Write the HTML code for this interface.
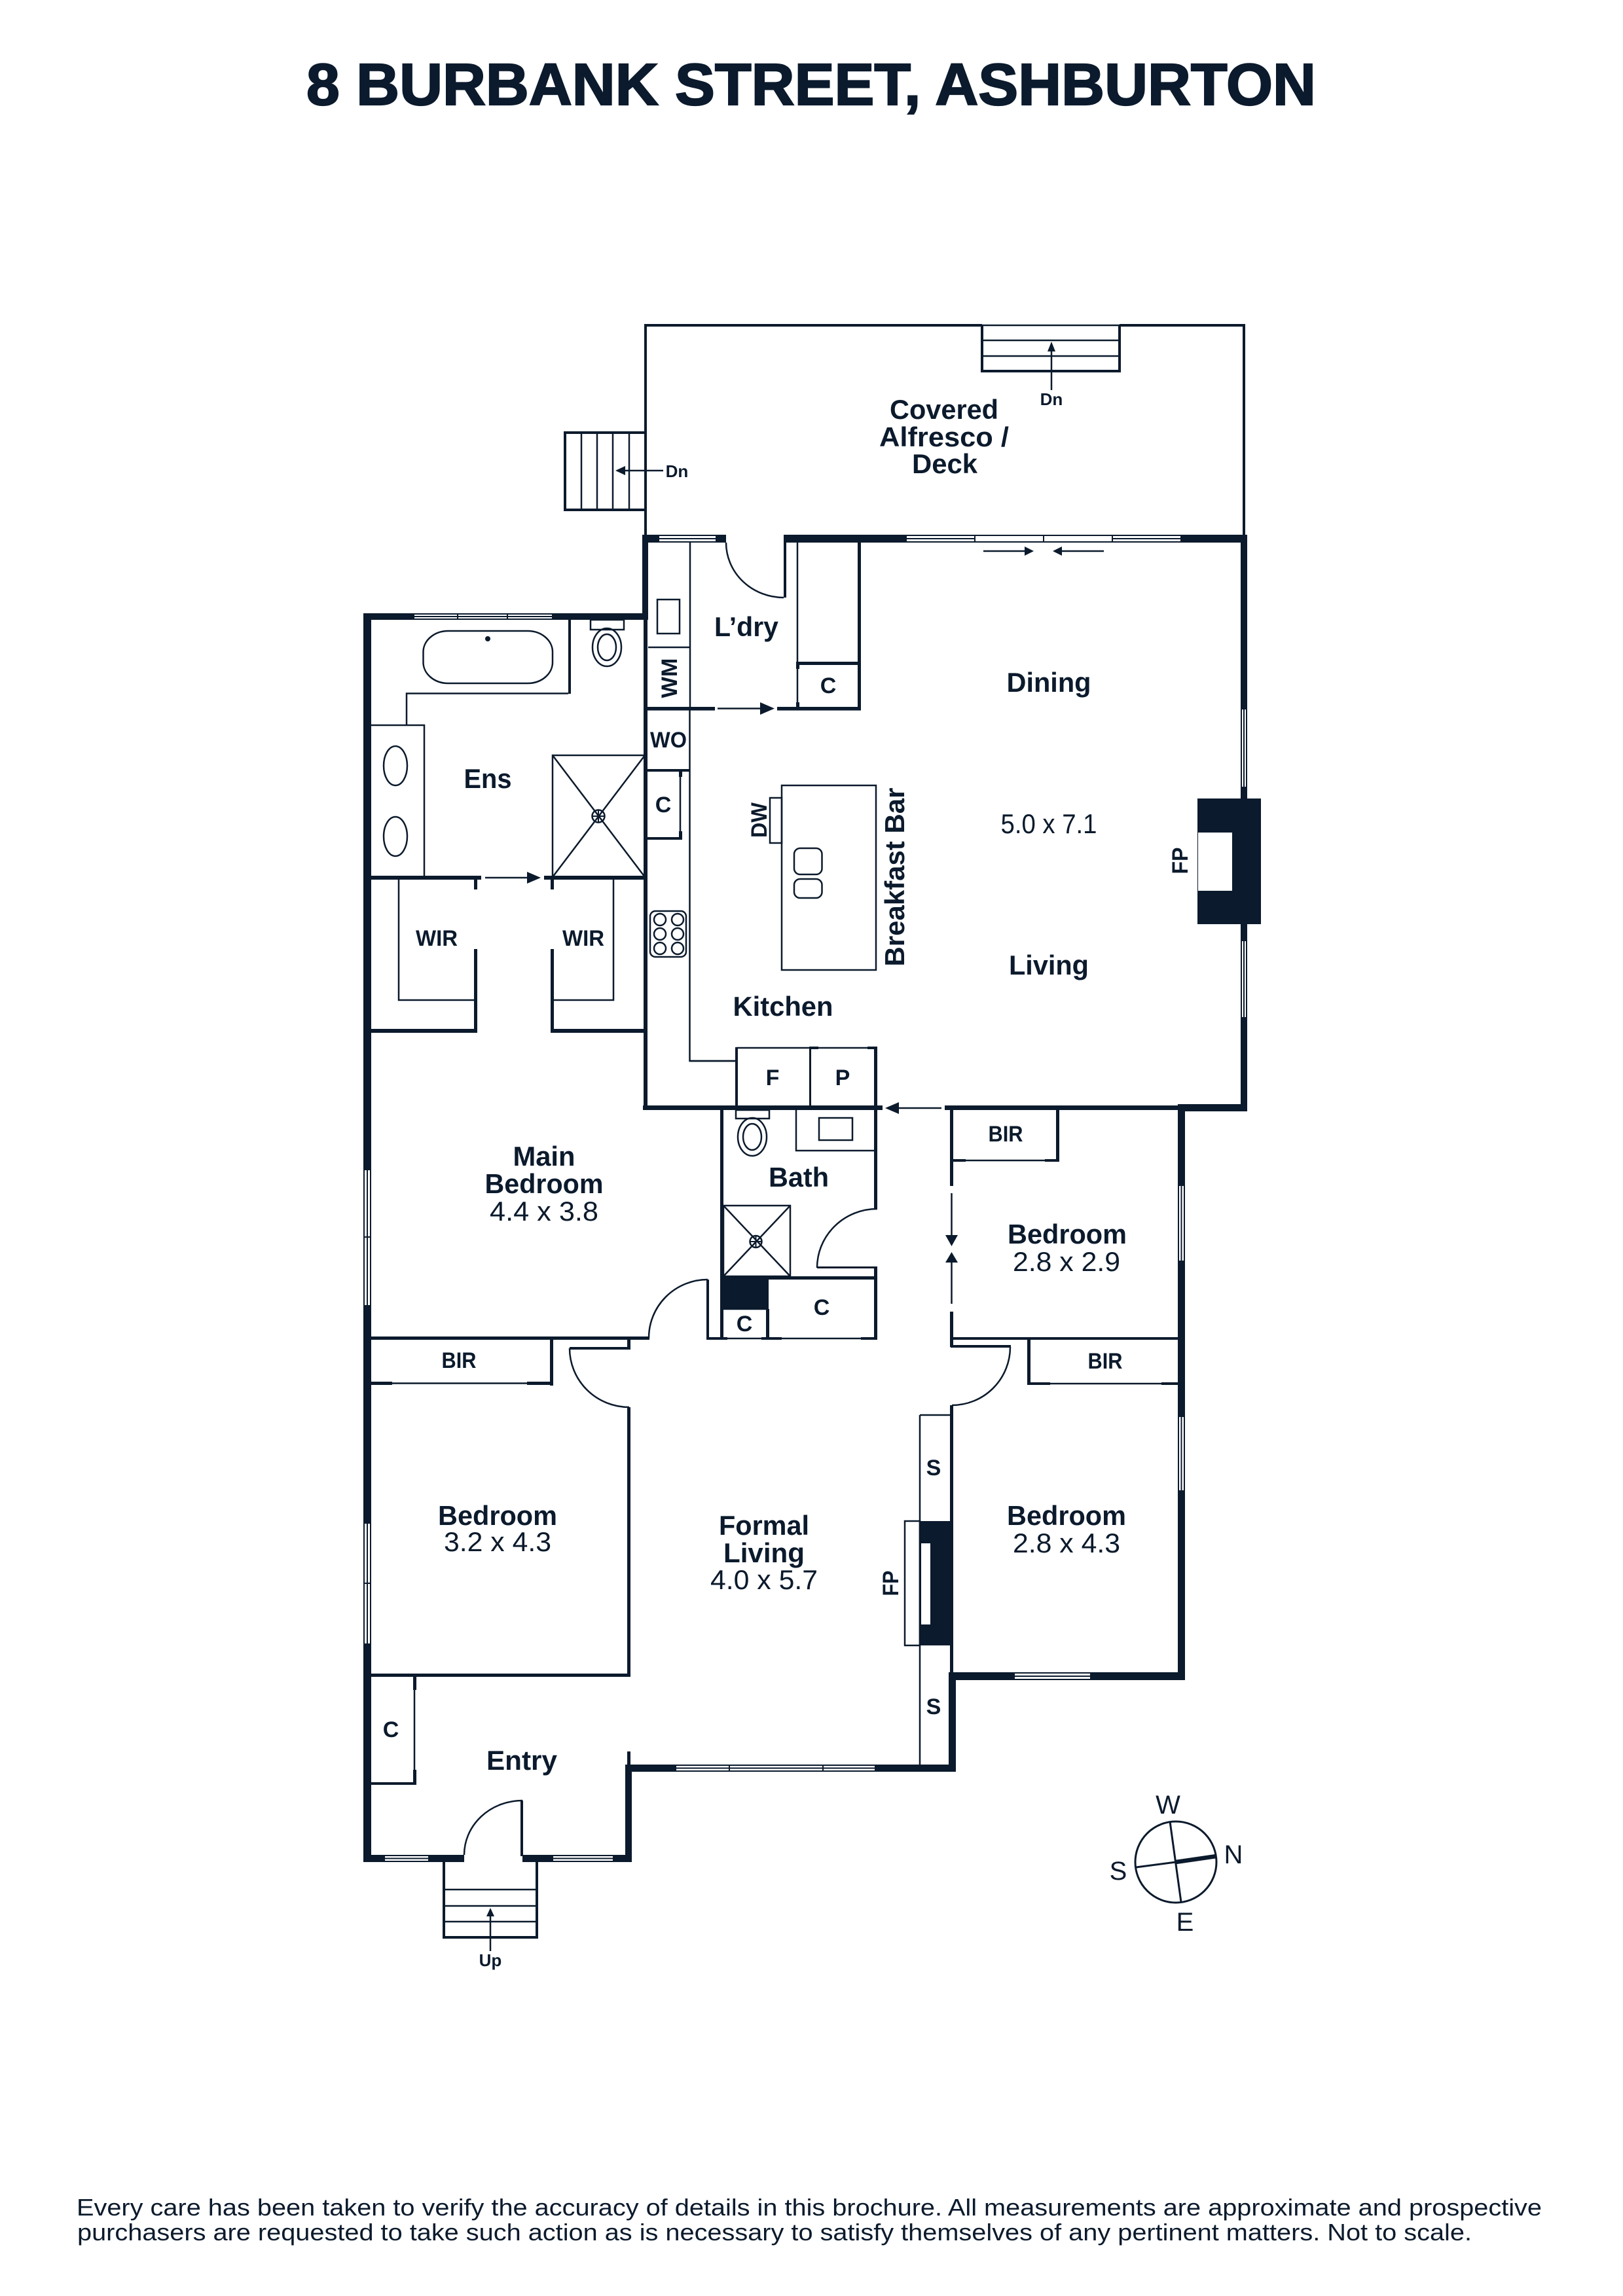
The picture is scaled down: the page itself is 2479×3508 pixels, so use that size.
<!DOCTYPE html>
<html>
<head>
<meta charset="utf-8">
<style>
html,body{margin:0;padding:0;background:#fff;}
svg{display:block;}
text{font-family:"Liberation Sans",sans-serif;fill:#0b1a2c;text-anchor:middle;}
.b{font-weight:700;font-size:42px;}
.r{font-weight:400;font-size:42px;}
.s{font-weight:700;font-size:34px;}
.d{font-weight:700;font-size:26px;}
.c{font-weight:400;font-size:40px;}
.w rect,.w path{fill:#0b1a2c;}
.win rect{fill:#fff;stroke:#0b1a2c;stroke-width:2;}
.win path{fill:none;stroke:#0b1a2c;stroke-width:2;}
.t{fill:none;stroke:#0b1a2c;stroke-width:2.5;}
.m{fill:none;stroke:#0b1a2c;stroke-width:4;}
</style>
</head>
<body>
<svg xmlns="http://www.w3.org/2000/svg" width="2479" height="3508" viewBox="0 0 2479 3508">
<rect width="2479" height="3508" fill="#fff"/>

<text x="1239" y="160" font-size="90" font-weight="700" textLength="1542" lengthAdjust="spacingAndGlyphs" stroke="#0b1a2c" stroke-width="2.2">8 BURBANK STREET, ASHBURTON</text>

<!-- alfresco -->
<path class="m" d="M986 817V497H1500M1710 497H1900V817"/>
<path class="t" d="M1500 497H1710M1500 520H1710M1500 544H1710"/>
<path class="m" d="M1500 497V567H1710V497"/>
<path class="t" d="M1606 596V535"/>
<polygon points="1606,522 1600,537 1612,537" fill="#0b1a2c"/>
<path class="m" d="M986 661H863V779H986" style="stroke-width:4"/>
<path class="t" d="M888 661V779M912 661V779M936 661V779M961 661V779"/>
<path class="t" d="M1013 719H952"/>
<polygon points="940,719 955,712 955,726" fill="#0b1a2c"/>

<!-- thick and medium walls -->
<g class="w">
<rect x="981" y="817" width="128" height="12"/>
<rect x="1197" y="817" width="707" height="12"/>
<rect x="981" y="817" width="9" height="130"/>
<rect x="555" y="937" width="435" height="10"/>
<rect x="555" y="937" width="12" height="1908"/>
<rect x="1895" y="817" width="10" height="881"/>
<rect x="1799" y="1687" width="106" height="11"/>
<rect x="1799" y="1687" width="11" height="880"/>
<rect x="1449" y="2555" width="361" height="12"/>
<rect x="1449" y="2555" width="11" height="152"/>
<rect x="955" y="2696" width="505" height="11"/>
<rect x="955" y="2696" width="10" height="149"/>
<rect x="958" y="2676" width="5" height="20"/>
<rect x="555" y="2834" width="154" height="11"/>
<rect x="798" y="2834" width="167" height="11"/>
<rect x="795" y="2751" width="4" height="85"/>
<rect x="983" y="947" width="6" height="749"/>
<rect x="982" y="1689" width="366" height="7"/>
<rect x="1443" y="1689" width="360" height="7"/>

<!-- laundry -->
<rect x="1197" y="829" width="4" height="84"/>
<rect x="1310" y="829" width="5" height="256"/>
<rect x="1216" y="1011" width="96" height="5"/>
<rect x="1216" y="1011" width="5" height="11"/>
<rect x="1216" y="1073" width="5" height="8"/>
<rect x="985" y="1080" width="107" height="5.5"/>
<rect x="1187" y="1080" width="128" height="5.5"/>

<!-- pantry etc -->
<rect x="985" y="1175" width="68" height="4"/>
<rect x="1037" y="1177" width="5" height="10"/>
<rect x="1037" y="1270" width="5" height="12"/>
<rect x="985" y="1279" width="57" height="4"/>

<!-- ensuite -->
<rect x="868" y="947" width="4" height="113"/>
<rect x="566" y="1338" width="169" height="6"/>
<rect x="831" y="1338" width="154" height="6"/>
<rect x="724" y="1344" width="5" height="15"/>
<rect x="841" y="1344" width="5" height="15"/>
<rect x="724" y="1450" width="5" height="126"/>
<rect x="841" y="1450" width="5" height="126"/>
<rect x="566" y="1572" width="163" height="6"/>
<rect x="841" y="1572" width="144" height="6"/>

<!-- main bedroom / BIR -->
<rect x="566" y="2042" width="426" height="5"/>
<rect x="840" y="2047" width="5" height="70"/>
<rect x="566" y="2111" width="33" height="5"/>
<rect x="805" y="2111" width="40" height="5"/>
<rect x="958" y="2047" width="5" height="15"/>
<rect x="870" y="2058" width="93" height="4"/>
<rect x="958" y="2150" width="5" height="412"/>
<rect x="566" y="2557" width="397" height="5"/>
<rect x="631" y="2562" width="5" height="20"/>
<rect x="631" y="2704" width="5" height="22"/>
<rect x="566" y="2723" width="70" height="4"/>

<!-- bath -->
<rect x="1100" y="1696" width="5" height="351"/>
<rect x="1079" y="1955" width="4" height="92"/>
<rect x="1079" y="2043" width="32" height="4"/>
<rect x="1335" y="1599" width="5" height="248"/>
<rect x="1123" y="1600" width="4" height="96"/>
<rect x="1236" y="1600" width="3" height="96"/>
<rect x="1236" y="1599" width="14" height="4"/>
<rect x="1325" y="1599" width="15" height="4"/>
<rect x="1248" y="1935" width="92" height="3"/>
<rect x="1335" y="1935" width="5" height="112"/>
<rect x="1100" y="1950" width="240" height="5"/>
<rect x="1100" y="1950" width="74" height="50"/>
<rect x="1170" y="2000" width="5" height="47"/>
<rect x="1163" y="2043" width="31" height="4"/>
<rect x="1315" y="2043" width="25" height="4"/>

<!-- bedrooms east -->
<rect x="1451" y="1696" width="5" height="116"/>
<rect x="1451" y="2004" width="5" height="54"/>
<rect x="1613" y="1696" width="5" height="79"/>
<rect x="1454" y="1771" width="21" height="4"/>
<rect x="1596" y="1771" width="22" height="4"/>
<rect x="1454" y="2043" width="345" height="4"/>
<rect x="1452" y="2055" width="92" height="4"/>
<rect x="1569" y="2047" width="5" height="69"/>
<rect x="1569" y="2112" width="35" height="4"/>
<rect x="1774" y="2112" width="26" height="4"/>
<rect x="1451" y="2147" width="5" height="409"/>

<!-- fireplaces -->
<rect x="1829" y="1220" width="97" height="192"/>
<rect x="1405" y="2324" width="51" height="190"/>
</g>

<rect x="1830" y="1272" width="52" height="89" fill="#fff"/>
<rect x="1407" y="2358" width="14" height="124" fill="#fff"/>
<rect x="1382" y="2324" width="23" height="190" fill="#fff" stroke="#0b1a2c" stroke-width="2.5"/>

<!-- thin fixtures -->
<path class="t" d="M1054 829V1085M990 989H1054M1218 829V1083"/>
<rect x="1004" y="916" width="34" height="52" fill="#fff" class="t"/>
<path class="t" d="M1053.500 1085V1621H1125"/>
<path class="t" d="M1039 1187V1270"/>
<path class="t" d="M1125 1601H1335"/>
<path class="t" d="M599 2113.500H805M633 2582V2704M1111 2045H1163M1194 2045H1315M1475 1773H1596M1604 2114H1774"/>
<path class="t" d="M1174 2000H1105"/>
<path class="t" d="M1405 2162H1451M1405 2162V2696"/>
<path class="t" d="M1054 1621H1125"/>

<!-- door arcs -->
<path class="t" d="M1109 829A88 84 0 0 0 1197 913"/>
<path class="t" d="M1340 1847A92 90 0 0 0 1248 1937"/>
<path class="t" d="M1081 1955A90 89 0 0 0 991 2044"/>
<path class="t" d="M870 2060A91 90 0 0 0 961 2150"/>
<path class="t" d="M1543 2058A89 89 0 0 1 1454 2147"/>
<path class="t" d="M709 2834A89 83 0 0 1 798 2751"/>

<!-- windows: horizontal -->
<g class="win">
<rect x="1006" y="818" width="88" height="10"/><path d="M1006 823H1094"/>
<rect x="632" y="938" width="212" height="8"/><path d="M632 942H844M699 938V946M775 938V946"/>
<rect x="1384" y="818" width="420" height="10"/><path d="M1384 823H1489M1699 823H1804M1489 818V828M1594 818V828M1699 818V828"/>
<rect x="1549" y="2556" width="117" height="10"/><path d="M1549 2561H1666"/>
<rect x="1032" y="2697" width="305" height="9"/><path d="M1032 2701.500H1337M1114 2697V2706M1257 2697V2706"/>
<rect x="587" y="2835" width="68" height="9"/><path d="M587 2839.500H655"/>
<rect x="844" y="2835" width="93" height="9"/><path d="M844 2839.500H937"/>
<!-- vertical -->
<rect x="556" y="1787" width="10" height="208"/><path d="M561 1787V1995M556 1890H566"/>
<rect x="556" y="2327" width="10" height="185"/><path d="M561 2327V2512M556 2419H566"/>
<rect x="1896" y="1083" width="8" height="120"/><path d="M1900 1083V1203"/>
<rect x="1896" y="1437" width="8" height="118"/><path d="M1900 1437V1555"/>
<rect x="1800" y="1811" width="9" height="116"/><path d="M1804.500 1811V1927"/>
<rect x="1800" y="2164" width="9" height="114"/><path d="M1804.500 2164V2278"/>
</g>

<!-- sliding arrows -->
<path class="t" d="M1502 842H1565M1686 842H1622"/>
<polygon points="1579,842 1565,835 1565,849" fill="#0b1a2c"/>
<polygon points="1608,842 1622,835 1622,849" fill="#0b1a2c"/>
<path class="t" d="M1096 1082.500H1162"/>
<polygon points="1183,1082.500 1161,1073 1161,1092" fill="#0b1a2c"/>
<path class="t" d="M741 1341H806"/>
<polygon points="826,1341 805,1332 805,1350" fill="#0b1a2c"/>
<path class="t" d="M1438 1693H1372"/>
<polygon points="1352,1693 1373,1684 1373,1702" fill="#0b1a2c"/>
<path class="t" d="M1453.500 1823V1888M1453.500 1928V1992"/>
<polygon points="1453.500,1904 1444,1887 1463,1887" fill="#0b1a2c"/>
<polygon points="1453.500,1913 1444,1929 1463,1929" fill="#0b1a2c"/>

<!-- ensuite fixtures -->
<rect x="646.500" y="964" width="197.500" height="80" rx="38" ry="32" class="t"/>
<circle cx="745" cy="976" r="4" fill="#0b1a2c"/>
<path class="t" d="M868 1059.500H621V1108"/>
<path class="t" d="M566 1108H648V1338"/>
<ellipse cx="604" cy="1170" rx="18" ry="30" class="t"/>
<ellipse cx="604" cy="1278" rx="18" ry="30" class="t"/>
<rect x="902" y="947" width="51" height="15" class="t"/>
<ellipse cx="927" cy="989" rx="22" ry="29" class="t"/>
<ellipse cx="927" cy="989" rx="14" ry="20" class="t"/>
<rect x="844" y="1154" width="141" height="186" class="t"/>
<path class="t" d="M844 1154L985 1340M985 1154L844 1340"/>
<circle cx="914" cy="1247" r="9.500" fill="#fff" class="t"/>
<path class="t" d="M904.500 1247H923.500M914 1237.500V1256.500" style="stroke-width:2"/>
<path class="t" d="M609 1344V1528H724M846 1528H937V1344"/>

<!-- kitchen fixtures -->
<rect x="993" y="1392" width="55" height="70" rx="8" class="t"/>
<circle cx="1008" cy="1405" r="9" class="t"/><circle cx="1035" cy="1405" r="9" class="t"/>
<circle cx="1008" cy="1427" r="9" class="t"/><circle cx="1035" cy="1427" r="9" class="t"/>
<circle cx="1008" cy="1449" r="9" class="t"/><circle cx="1035" cy="1449" r="9" class="t"/>
<rect x="1194" y="1200" width="144" height="282" class="t"/>
<rect x="1176" y="1219" width="18" height="69" class="t"/>
<rect x="1213" y="1296" width="42.500" height="40" rx="9" class="t"/>
<rect x="1213" y="1343" width="42.500" height="29" rx="9" class="t"/>

<!-- bath fixtures -->
<rect x="1124" y="1696" width="51" height="13" class="t"/>
<ellipse cx="1149" cy="1737" rx="22" ry="29" class="t"/>
<ellipse cx="1149" cy="1737" rx="14" ry="20" class="t"/>
<path class="t" d="M1216 1696V1758H1335"/>
<rect x="1251" y="1708" width="51" height="34" class="t"/>
<rect x="1105" y="1842" width="102" height="108" class="t"/>
<path class="t" d="M1105 1842L1207 1950M1207 1842L1105 1950"/>
<circle cx="1154.500" cy="1897" r="9" fill="#fff" class="t"/>
<path class="t" d="M1145.500 1897H1163.500M1154.500 1888V1906" style="stroke-width:2"/>

<!-- entry stairs -->
<path class="m" d="M678 2845V2960H820V2845"/>
<path class="t" d="M678 2887H820M678 2912H820M678 2936H820M678 2960H820"/>
<path class="t" d="M749 2981V2927"/>
<polygon points="749,2915 743,2928 755,2928" fill="#0b1a2c"/>

<!-- compass -->
<circle cx="1796" cy="2845" r="62" fill="none" stroke="#0b1a2c" stroke-width="3"/>
<path fill="none" stroke="#0b1a2c" stroke-width="3" d="M1787 2783L1804 2906M1735 2853L1796 2845"/>
<path fill="none" stroke="#0b1a2c" stroke-width="6.500" d="M1796 2845L1858 2836"/>
<text class="c" x="1784" y="2771">W</text>
<text class="c" x="1708" y="2872">S</text>
<text class="c" x="1884" y="2847">N</text>
<text class="c" x="1810" y="2950">E</text>

<!-- room labels -->
<text class="b" x="1442" y="640" textLength="166" lengthAdjust="spacingAndGlyphs">Covered</text>
<text class="b" x="1442" y="682" textLength="198" lengthAdjust="spacingAndGlyphs">Alfresco /</text>
<text class="b" x="1443" y="723" textLength="100" lengthAdjust="spacingAndGlyphs">Deck</text>
<text class="d" x="1606" y="619">Dn</text>
<text class="d" x="1034" y="729">Dn</text>
<text class="b" x="1140" y="972" textLength="98" lengthAdjust="spacingAndGlyphs">L’dry</text>
<text class="b" x="1602" y="1057" textLength="129" lengthAdjust="spacingAndGlyphs">Dining</text>
<text class="r" x="1602" y="1273" textLength="147" lengthAdjust="spacingAndGlyphs">5.0 x 7.1</text>
<text class="b" x="1602" y="1489" textLength="122" lengthAdjust="spacingAndGlyphs">Living</text>
<text class="b" x="1196" y="1552" textLength="153" lengthAdjust="spacingAndGlyphs">Kitchen</text>
<text class="b" x="745" y="1204" textLength="73" lengthAdjust="spacingAndGlyphs">Ens</text>
<text class="s" x="667" y="1445" textLength="64" lengthAdjust="spacingAndGlyphs">WIR</text>
<text class="s" x="891" y="1445" textLength="64" lengthAdjust="spacingAndGlyphs">WIR</text>
<text class="s" x="1021" y="1142" textLength="56" lengthAdjust="spacingAndGlyphs">WO</text>
<text class="s" x="1013" y="1241">C</text>
<text class="s" x="1265" y="1059">C</text>
<text class="s" transform="translate(1022,1036) rotate(-90)" y="12" textLength="61" lengthAdjust="spacingAndGlyphs">WM</text>
<text class="s" transform="translate(1159,1253) rotate(-90)" y="12" textLength="54" lengthAdjust="spacingAndGlyphs">DW</text>
<text class="b" transform="translate(1366,1340) rotate(-90)" y="15" textLength="273" lengthAdjust="spacingAndGlyphs">Breakfast Bar</text>
<text class="s" transform="translate(1802,1315) rotate(-90)" y="12" textLength="41" lengthAdjust="spacingAndGlyphs">FP</text>
<text class="s" transform="translate(1360,2419) rotate(-90)" y="12" textLength="39" lengthAdjust="spacingAndGlyphs">FP</text>
<text class="s" x="1180" y="1658">F</text>
<text class="s" x="1287" y="1658">P</text>
<text class="b" x="1220" y="1813" textLength="92" lengthAdjust="spacingAndGlyphs">Bath</text>
<text class="s" x="1137" y="2034">C</text>
<text class="s" x="1255" y="2009">C</text>
<text class="s" x="1536" y="1744" textLength="53" lengthAdjust="spacingAndGlyphs">BIR</text>
<text class="s" x="1688" y="2091" textLength="53" lengthAdjust="spacingAndGlyphs">BIR</text>
<text class="s" x="701" y="2090" textLength="53" lengthAdjust="spacingAndGlyphs">BIR</text>
<text class="b" x="1630" y="1900" textLength="182" lengthAdjust="spacingAndGlyphs">Bedroom</text>
<text class="r" x="1629" y="1942" textLength="164" lengthAdjust="spacingAndGlyphs">2.8 x 2.9</text>
<text class="b" x="831" y="1781" textLength="95" lengthAdjust="spacingAndGlyphs">Main</text>
<text class="b" x="831" y="1823" textLength="181" lengthAdjust="spacingAndGlyphs">Bedroom</text>
<text class="r" x="831" y="1865" textLength="166" lengthAdjust="spacingAndGlyphs">4.4 x 3.8</text>
<text class="b" x="760" y="2330" textLength="182" lengthAdjust="spacingAndGlyphs">Bedroom</text>
<text class="r" x="760" y="2370" textLength="164" lengthAdjust="spacingAndGlyphs">3.2 x 4.3</text>
<text class="b" x="1167" y="2345" textLength="138" lengthAdjust="spacingAndGlyphs">Formal</text>
<text class="b" x="1167" y="2387" textLength="124" lengthAdjust="spacingAndGlyphs">Living</text>
<text class="r" x="1167" y="2428" textLength="164" lengthAdjust="spacingAndGlyphs">4.0 x 5.7</text>
<text class="b" x="1629" y="2330" textLength="182" lengthAdjust="spacingAndGlyphs">Bedroom</text>
<text class="r" x="1629" y="2372" textLength="164" lengthAdjust="spacingAndGlyphs">2.8 x 4.3</text>
<text class="b" x="797" y="2704" textLength="108" lengthAdjust="spacingAndGlyphs">Entry</text>
<text class="s" x="597" y="2654">C</text>
<text class="s" x="1426" y="2254">S</text>
<text class="s" x="1426" y="2619">S</text>
<text class="d" x="749" y="3004">Up</text>

<!-- footer -->
<text x="1236" y="3385" font-size="36" textLength="2238" lengthAdjust="spacingAndGlyphs">Every care has been taken to verify the accuracy of details in this brochure. All measurements are approximate and prospective</text>
<text x="1183" y="3423" font-size="36" textLength="2130" lengthAdjust="spacingAndGlyphs">purchasers are requested to take such action as is necessary to satisfy themselves of any pertinent matters. Not to scale.</text>
</svg>
</body>
</html>
